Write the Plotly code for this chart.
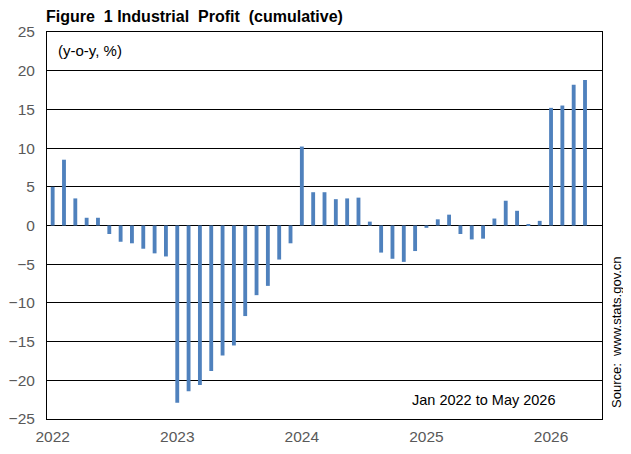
import plotly.graph_objects as go

# Cumulative y-o-y growth of industrial profit (%), Jan-Feb combined each year
v2022 = [5.0, 8.5, 3.5, 1.0, 1.0, -1.1, -2.1, -2.3, -3.0, -3.6, -4.0]
v2023 = [-22.9, -21.4, -20.6, -18.8, -16.8, -15.5, -11.7, -9.0, -7.8, -4.4, -2.3]
v2024 = [10.2, 4.3, 4.3, 3.4, 3.5, 3.6, 0.5, -3.5, -4.3, -4.7, -3.3]
v2025 = [-0.3, 0.8, 1.4, -1.1, -1.8, -1.7, 0.9, 3.2, 1.9, 0.1, 0.6]
v2026 = [15.2, 15.5, 18.2, 18.8]
years = ["2022", "2023", "2024", "2025", "2026"]

values = v2022 + v2023 + v2024 + v2025 + v2026
idx = list(range(len(values)))
year_pos = [0, 11, 22, 33, 44]

font = "Liberation Sans, Arial, sans-serif"
grey = "#595959"

fig = go.Figure(go.Bar(x=idx, y=values, width=0.34,
                       marker=dict(color="#4F81BD", line=dict(width=0)),
                       hoverinfo="skip"))

# page has an 8px body margin, so the figure is made 8px smaller
fig.update_layout(
    width=623, height=446,
    margin=dict(l=39, r=29, t=24, b=35),
    paper_bgcolor="white", plot_bgcolor="white",
    showlegend=False,
    font=dict(family=font, size=15.5, color=grey),
)

fig.update_xaxes(range=[-0.5, 48.5], tickvals=year_pos, ticktext=years,
                 showgrid=False, zeroline=False, automargin=False,
                 showline=True, linecolor="black", linewidth=1, mirror=True,
                 ticks="", ticklabelstandoff=3, tickfont=dict(size=15.5, color=grey))
fig.update_yaxes(range=[-25, 25], tickvals=list(range(-25, 26, 5)),
                 showgrid=True, gridcolor="black", gridwidth=1,
                 zeroline=True, zerolinecolor="black", zerolinewidth=1,
                 showline=True, linecolor="black", linewidth=1, mirror=True,
                 automargin=False,
                 ticks="", ticklabelstandoff=8, tickfont=dict(size=15.5, color=grey))

fig.add_annotation(text="<b>Figure\u00a0 1 Industrial\u00a0 Profit\u00a0 (cumulative)</b>",
                   xref="paper", yref="paper", x=0, y=1, xshift=-3, yshift=5,
                   xanchor="left", yanchor="bottom", showarrow=False,
                   font=dict(size=16, color="black"))
fig.add_annotation(text="(y-o-y, %)", xref="paper", yref="paper",
                   x=0, y=1, xshift=9, yshift=-8, xanchor="left", yanchor="top",
                   showarrow=False, font=dict(size=15, color="black"))
fig.add_annotation(text="Jan 2022 to May 2026", xref="paper", yref="paper",
                   x=0.92, y=0, yshift=9, xanchor="right", yanchor="bottom",
                   showarrow=False, font=dict(size=14.5, color="black"))
fig.add_annotation(text="Source:\u00a0 www.stats.gov.cn", xref="paper", yref="paper",
                   x=1, xshift=15, y=0.225, textangle=-90,
                   xanchor="center", yanchor="middle",
                   showarrow=False, font=dict(size=13, color="black"))

fig.write_html("out.html")
